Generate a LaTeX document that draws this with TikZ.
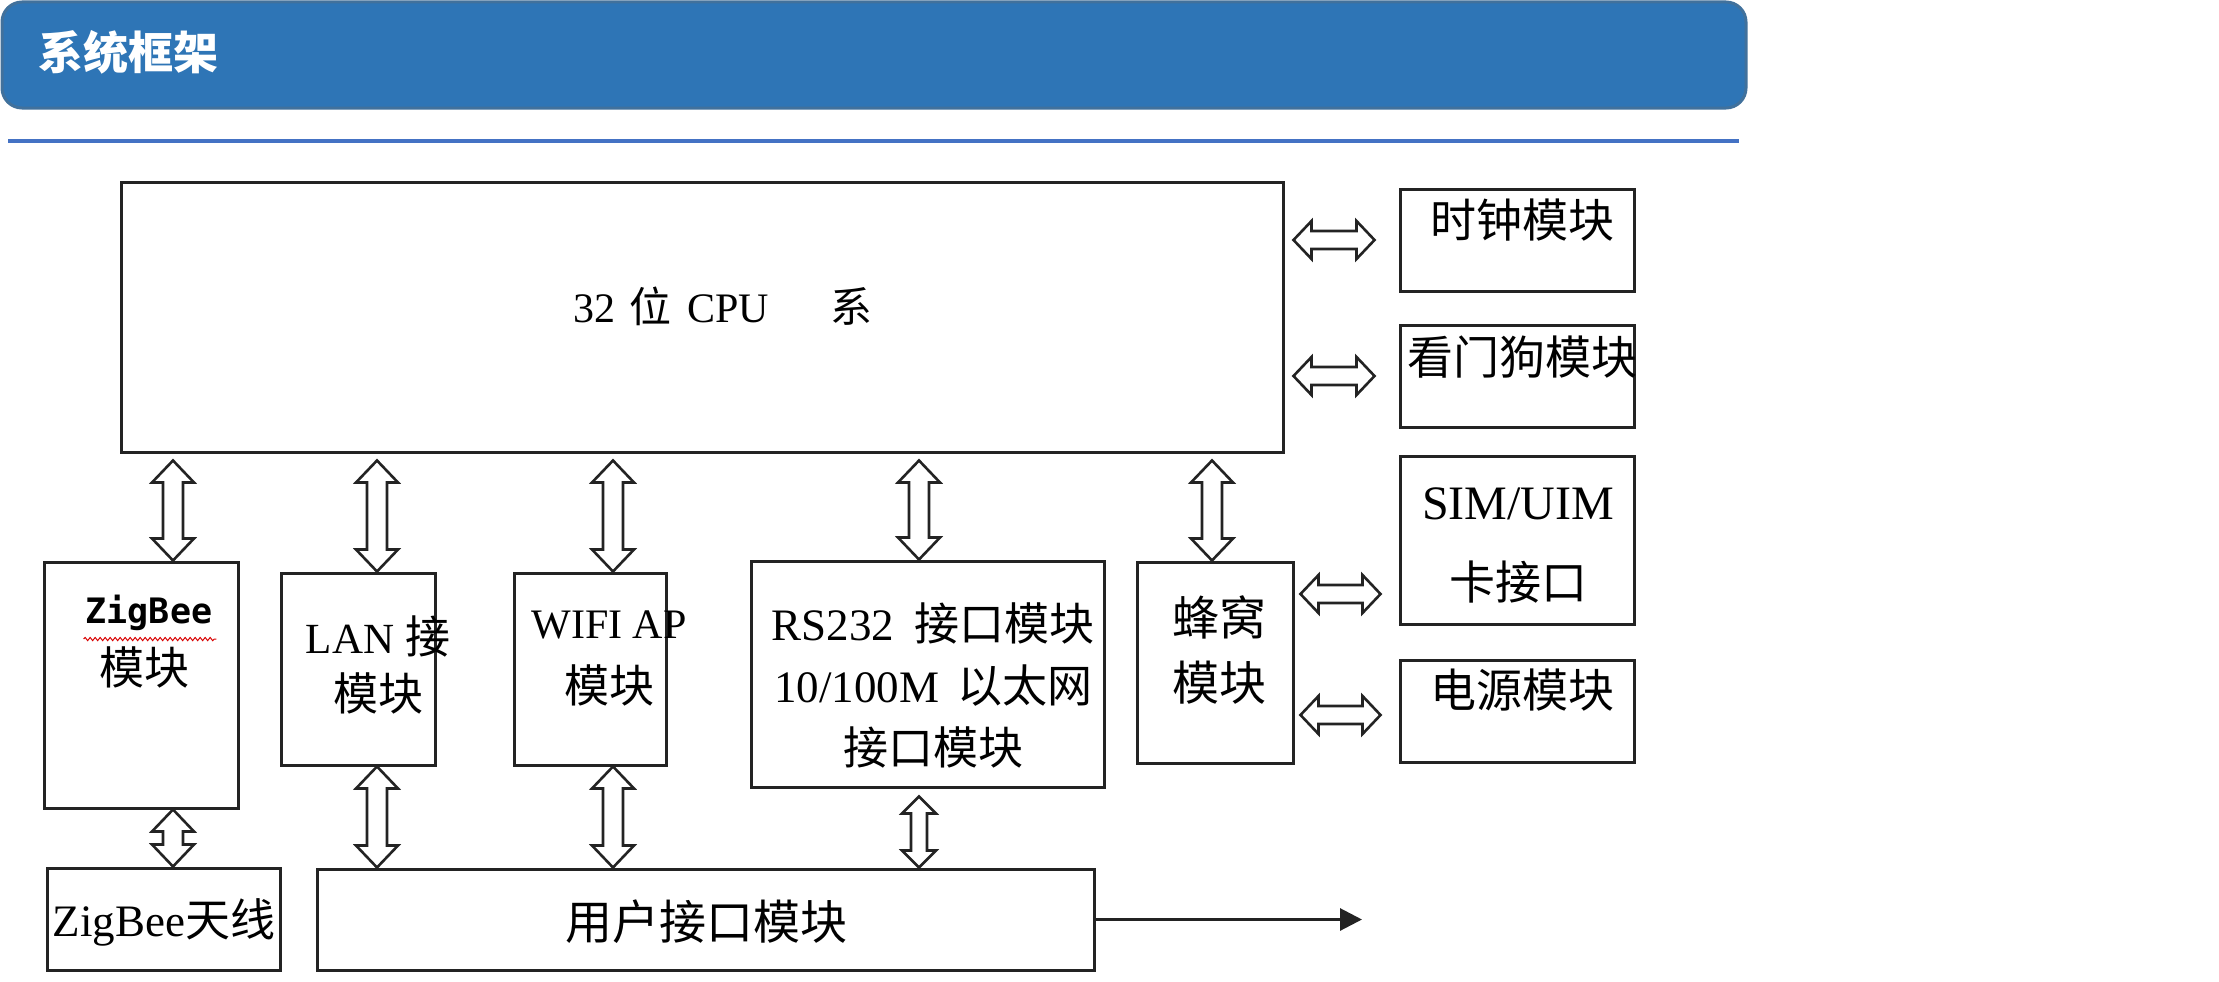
\documentclass[tikz,border=0pt]{standalone}
\usepackage{fontspec}
\setmainfont{Liberation Serif}
\newfontfamily\cjk{Noto Sans CJK SC}
\newfontfamily\zbfont{DejaVu Sans Mono}
\usetikzlibrary{calc,decorations.pathmorphing,arrows.meta}
\definecolor{hdrfill}{RGB}{46,117,182}
\definecolor{hdrline}{RGB}{65,113,156}
\definecolor{rulecol}{RGB}{68,114,196}
\definecolor{boxline}{RGB}{35,35,35}
\newcommand\vdarrow[5]{\draw[blockarrow] let \p1=#1, \p2=#2 in
 (\x1,\y1) -- (\x1+#3,\y1-#5) -- (\x1+#4,\y1-#5) -- (\x1+#4,\y2+#5) -- (\x1+#3,\y2+#5) -- (\x1,\y2) -- (\x1-#3,\y2+#5) -- (\x1-#4,\y2+#5) -- (\x1-#4,\y1-#5) -- (\x1-#3,\y1-#5) -- cycle;}
\newcommand\hdarrow[2]{\draw[blockarrow] let \p1=#1, \p2=#2 in
 (\x1,\y1) -- (\x1+18pt,\y1+19pt) -- (\x1+18pt,\y1+9pt) -- (\x2-18pt,\y1+9pt) -- (\x2-18pt,\y1+19pt) -- (\x2,\y1) -- (\x2-18pt,\y1-19pt) -- (\x2-18pt,\y1-9pt) -- (\x1+18pt,\y1-9pt) -- (\x1+18pt,\y1-19pt) -- cycle;}
\begin{document}
\begin{tikzpicture}[x=1pt,y=-1pt,
  box/.style={draw=boxline, line width=3pt, fill=white, inner sep=0pt},
  blockarrow/.style={draw=boxline, line width=2.6pt, fill=white, line join=miter},
  txt/.style={inner sep=0pt, font=\fontsize{45}{60}\selectfont, align=center}]
\useasboundingbox (0,0) rectangle (2219,982);
\fill[white] (0,0) rectangle (2219,982);
% header
\node[draw=hdrline, line width=3pt, fill=hdrfill, rounded corners=20pt, minimum width=1744pt, minimum height=106pt, inner sep=0pt] (hdr) at (874,55) {};
\node[anchor=west, inner sep=0pt, text=white, font=\cjk\bfseries\fontsize{45}{50}\selectfont] (title) at (38,52) {系统框架};
\draw[rulecol, line width=4pt] (8,141) -- (1739,141);
% boxes
\node[box, minimum width=1162pt, minimum height=270pt] (cpu) at (702,317) {};
\node[box, minimum width=234pt, minimum height=102pt] (clk) at (1517,240) {};
\node[box, minimum width=234pt, minimum height=102pt] (wdg) at (1517,376) {};
\node[box, minimum width=234pt, minimum height=168pt] (sim) at (1517,540) {};
\node[box, minimum width=234pt, minimum height=102pt] (pwr) at (1517,711) {};
\node[box, minimum width=194pt, minimum height=246pt] (zig) at (141,685) {};
\node[box, minimum width=154pt, minimum height=192pt] (lan) at (358,669) {};
\node[box, minimum width=152pt, minimum height=192pt] (wifi) at (590,669) {};
\node[box, minimum width=353pt, minimum height=226pt] (rs) at (927.5,674) {};
\node[box, minimum width=156pt, minimum height=201pt] (cell) at (1215,662.5) {};
\node[box, minimum width=233pt, minimum height=102pt] (ant) at (163.5,919) {};
\node[box, minimum width=777pt, minimum height=101pt] (user) at (705.5,919.5) {};
% texts
\node[txt, font=\fontsize{42}{50}\selectfont] (tcpu) at (723,306) {32\hspace{14pt}{\cjk 位}\hspace{16pt}CPU\hspace{62pt}{\cjk 系}};
\node[txt, font=\cjk\fontsize{46}{50}\selectfont] (tclk) at (1522,220) {时钟模块};
\node[txt, font=\cjk\fontsize{46}{50}\selectfont] (twdg) at (1522,357) {看门狗模块};
\node[txt, font=\fontsize{48}{80}\selectfont] (tsim) at (1518,545) {SIM/UIM\\{\cjk\fontsize{46}{50}\selectfont 卡接口}};
\node[txt, font=\cjk\fontsize{46}{50}\selectfont] (tpwr) at (1522,690) {电源模块};
\node[inner sep=0pt, font=\zbfont\bfseries\fontsize{35}{40}\selectfont] (tzig1) at (149,613) {ZigBee};
\node[txt] (tzig2) at (144,667) {\cjk 模块};
\draw[red!85!black, line width=1pt, decorate, decoration={snake, amplitude=1.6pt, segment length=5pt}] ($(tzig1.south west)+(-2,8)$) -- ($(tzig1.south east)+(4,8)$);
\node[txt, font=\fontsize{43}{57}\selectfont] (tlan) at (378,665) {LAN {\cjk\fontsize{45}{50}\selectfont 接}\\{\cjk\fontsize{45}{50}\selectfont 模块}};
\node[txt, font=\fontsize{42}{64}\selectfont] (twifi) at (609,658) {WIFI AP\\{\cjk\fontsize{45}{50}\selectfont 模块}};
\node[txt, font=\fontsize{45}{62}\selectfont] (trs) at (933,685) {RS232\hspace{20pt}{\cjk 接口模块}\\10/100M\hspace{18pt}{\cjk 以太网}\\{\cjk 接口模块}};
\node[txt, font=\cjk\fontsize{47}{65}\selectfont] (tcell) at (1219,650) {蜂窝\\模块};
\node[txt, font=\fontsize{45}{50}\selectfont] (tant) at (164,922) {ZigBee{\cjk 天线}};
\node[txt, font=\cjk\fontsize{47}{50}\selectfont] (tuser) at (706,922) {用户接口模块};
% arrow x positions
\coordinate (x1) at (173,0);
\coordinate (x2) at (377,0);
\coordinate (x3) at (613,0);
\coordinate (x4) at (919,0);
\coordinate (x5) at (1212,0);
% vertical arrows CPU -> modules
\vdarrow{($(cpu.south -| x1)+(0,7)$)}{(zig.north -| x1)}{21pt}{10pt}{22pt}
\vdarrow{($(cpu.south -| x2)+(0,7)$)}{(lan.north -| x2)}{21pt}{10pt}{22pt}
\vdarrow{($(cpu.south -| x3)+(0,7)$)}{(wifi.north -| x3)}{21pt}{10pt}{22pt}
\vdarrow{($(cpu.south -| x4)+(0,7)$)}{(rs.north -| x4)}{21pt}{10pt}{22pt}
\vdarrow{($(cpu.south -| x5)+(0,7)$)}{(cell.north -| x5)}{21pt}{10pt}{22pt}
% lower vertical arrows
\vdarrow{(zig.south -| x1)}{(ant.north -| x1)}{21pt}{10pt}{22pt}
\vdarrow{(lan.south -| x2)}{(user.north -| x2)}{21pt}{10pt}{22pt}
\vdarrow{(wifi.south -| x3)}{(user.north -| x3)}{21pt}{10pt}{22pt}
\vdarrow{($(rs.south -| x4)+(0,8)$)}{(user.north -| x4)}{17pt}{8pt}{17pt}
% horizontal arrows
\hdarrow{($(cpu.east |- clk.west)+(9,0)$)}{($(clk.west)+(-24,0)$)}
\hdarrow{($(cpu.east |- wdg.west)+(9,0)$)}{($(wdg.west)+(-24,0)$)}
\hdarrow{($(cell.east |- 0,594)+(6,0)$)}{($(sim.west |- 0,594)+(-18,0)$)}
\hdarrow{($(cell.east |- 0,715)+(6,0)$)}{($(pwr.west |- 0,715)+(-18,0)$)}
% output arrow
\coordinate (uend) at (1362,919.5);
\draw[boxline, line width=3pt, -{Triangle[length=22pt,width=22pt]}] (user.east) -- (uend);
\end{tikzpicture}
\end{document}
